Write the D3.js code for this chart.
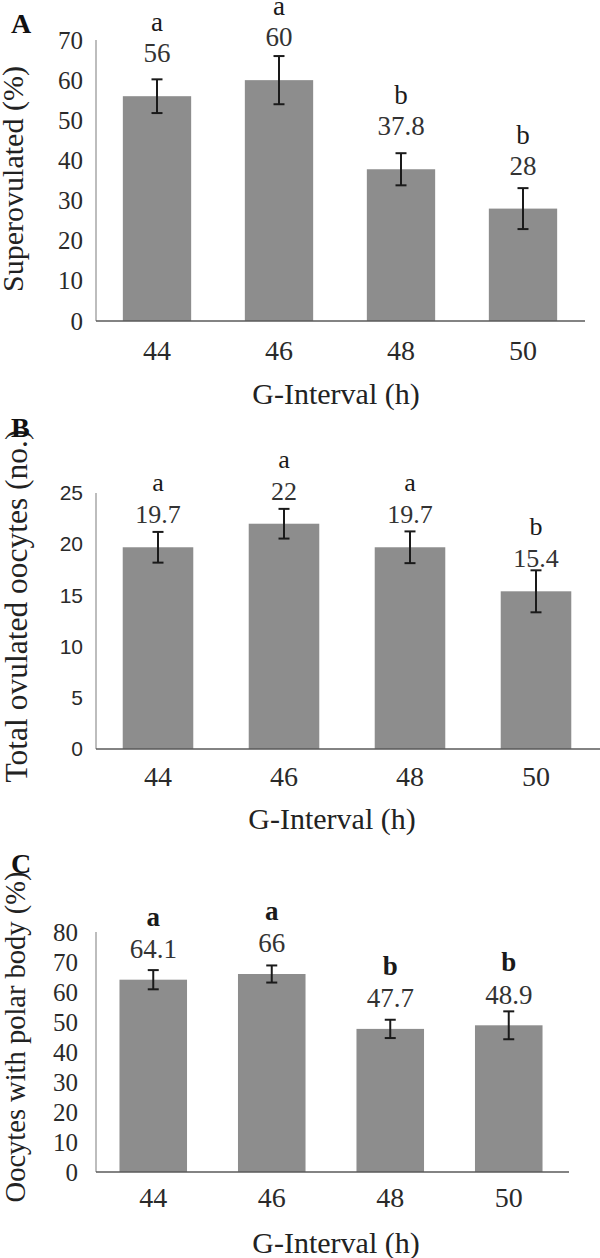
<!DOCTYPE html>
<html>
<head>
<meta charset="utf-8">
<script src="https://cdn.jsdelivr.net/npm/d3@7"></script>
<style>
  html, body { margin: 0; padding: 0; background: #fff; }
  svg { display: block; }
</style>
</head>
<body>
<svg id="chart" width="600" height="1258"></svg>
<script>
// ---------------- DATA ----------------
const categories = ["44", "46", "48", "50"];

const superovulated = [56, 60, 37.8, 28];
const superovulatedErr = [4.2, 6, 4, 5.1];
const superovulatedSig = ["a", "a", "b", "b"];
const superovulatedTicks = [0, 10, 20, 30, 40, 50, 60, 70];

const totalOocytes = [19.7, 22, 19.7, 15.4];
const totalOocytesErr = [1.5, 1.45, 1.55, 2.05];
const totalOocytesSig = ["a", "a", "a", "b"];
const totalOocytesTicks = [0, 5, 10, 15, 20, 25];

const polarBody = [64.1, 66, 47.7, 48.9];
const polarBodyErr = [3.2, 2.85, 3.05, 4.65];
const polarBodySig = ["a", "a", "b", "b"];
const polarBodyTicks = [0, 10, 20, 30, 40, 50, 60, 70, 80];

const xTitle = "G-Interval (h)";

// ---------------- LAYOUT ----------------
const SERIF = '"Liberation Serif"';
const SANS = '"Liberation Sans"';
const BAR = "#8d8d8d";

const panels = [
  {
    letter: "A", letterY: 33,
    values: superovulated, errs: superovulatedErr, sig: superovulatedSig, ticks: superovulatedTicks,
    yTitle: "Superovulated (%)", yTitleX: 23, yTitleSize: 30, yTitleCenter: 179,
    axisX0: 96, axisX1: 585, bandX0: 96, bandX1: 584,
    yTop: 40, yBase: 321, pad: 0.44,
    yTickFont: SERIF, yTickSize: 25, yTickPad: 13,
    xTickSize: 28, xTickCenter: 350, xTitleX: 336, xTitleY: 393,
    numOff: 43.5, sigOff: 73, labelSize: 27, sigBold: false
  },
  {
    letter: "B", letterY: 437,
    values: totalOocytes, errs: totalOocytesErr, sig: totalOocytesSig, ticks: totalOocytesTicks,
    yTitle: "Total ovulated oocytes (no.)", yTitleX: 27, yTitleSize: 31.5, yTitleCenter: 606,
    axisX0: 96, axisX1: 600, bandX0: 95, bandX1: 599,
    yTop: 493, yBase: 749, pad: 0.44,
    yTickFont: SANS, yTickSize: 21, yTickPad: 13,
    xTickSize: 28, xTickCenter: 776, xTitleX: 332, xTitleY: 818,
    numOff: 33, sigOff: 64, labelSize: 26, sigBold: false
  },
  {
    letter: "C", letterY: 873,
    values: polarBody, errs: polarBodyErr, sig: polarBodySig, ticks: polarBodyTicks,
    yTitle: "Oocytes with polar body (%)", yTitleX: 25, yTitleSize: 28.5, yTitleCenter: 1037,
    axisX0: 96, axisX1: 569, bandX0: 94, bandX1: 568,
    yTop: 932, yBase: 1172, pad: 0.43,
    yTickFont: SERIF, yTickSize: 25, yTickPad: 18,
    xTickSize: 28, xTickCenter: 1197, xTitleX: 336, xTitleY: 1242,
    numOff: 31, sigOff: 62, labelSize: 27, sigBold: true
  }
];

const svg = d3.select("#chart");

function drawPanel(p) {
  const g = svg.append("g");
  const max = p.ticks[p.ticks.length - 1];
  const y = d3.scaleLinear().domain([0, max]).range([p.yBase, p.yTop]);
  const x = d3.scaleBand().domain(categories).range([p.bandX0, p.bandX1])
    .paddingInner(p.pad).paddingOuter(p.pad / 2);

  const rows = categories.map((c, i) => ({ c, v: p.values[i], e: p.errs[i], s: p.sig[i] }));

  // bars
  g.selectAll("rect.bar").data(rows).enter().append("rect")
    .attr("class", "bar")
    .attr("x", d => x(d.c))
    .attr("width", x.bandwidth())
    .attr("y", d => y(d.v))
    .attr("height", d => y(0) - y(d.v))
    .attr("fill", BAR);

  // y axis (labels only)
  const ya = g.append("g").attr("transform", `translate(${p.axisX0},0)`)
    .call(d3.axisLeft(y).tickValues(p.ticks).tickSize(0).tickPadding(p.yTickPad).tickFormat(d3.format("d")));
  ya.select(".domain").remove();
  ya.selectAll("text").style("font-family", p.yTickFont).style("font-size", p.yTickSize + "px").attr("fill", "#2a2a2a");

  // x axis (labels only)
  const xa = g.append("g").attr("transform", `translate(0,${p.yBase})`)
    .call(d3.axisBottom(x).tickSize(0).tickPadding(0));
  xa.select(".domain").remove();
  xa.selectAll("text")
    .style("font-family", SERIF).style("font-size", p.xTickSize + "px").attr("fill", "#2a2a2a")
    .attr("y", p.xTickCenter - p.yBase).attr("dy", "0.35em");

  // axis lines
  g.append("line").attr("x1", p.axisX0).attr("x2", p.axisX0).attr("y1", p.yTop).attr("y2", p.yBase)
    .attr("stroke", "#9a9a9a").attr("stroke-width", 1.3);
  g.append("line").attr("x1", p.axisX0).attr("x2", p.axisX1).attr("y1", p.yBase).attr("y2", p.yBase)
    .attr("stroke", "#5a5a5a").attr("stroke-width", 1.5);

  // error bars
  const cx = d => x(d.c) + x.bandwidth() / 2;
  const cap = 5.5;
  const eb = g.selectAll("g.err").data(rows).enter().append("g").attr("class", "err")
    .attr("stroke", "#1a1a1a").attr("stroke-width", 2);
  eb.append("line").attr("x1", cx).attr("x2", cx).attr("y1", d => y(d.v + d.e)).attr("y2", d => y(d.v - d.e));
  eb.append("line").attr("x1", d => cx(d) - cap).attr("x2", d => cx(d) + cap).attr("y1", d => y(d.v + d.e)).attr("y2", d => y(d.v + d.e));
  eb.append("line").attr("x1", d => cx(d) - cap).attr("x2", d => cx(d) + cap).attr("y1", d => y(d.v - d.e)).attr("y2", d => y(d.v - d.e));

  // value labels
  g.selectAll("text.val").data(rows).enter().append("text").attr("class", "val")
    .attr("x", cx).attr("y", d => y(d.v) - p.numOff).attr("dy", "0.35em")
    .attr("text-anchor", "middle")
    .style("font-family", SERIF).style("font-size", p.labelSize + "px")
    .attr("fill", "#333").text(d => String(d.v));
  g.selectAll("text.sig").data(rows).enter().append("text").attr("class", "sig")
    .attr("x", cx).attr("y", d => y(d.v) - p.sigOff).attr("dy", "0.3em")
    .attr("text-anchor", "middle")
    .style("font-family", SERIF).style("font-size", p.labelSize + "px")
    .style("font-weight", p.sigBold ? "bold" : "normal")
    .attr("fill", "#1a1a1a").text(d => d.s);

  // axis titles
  g.append("text").attr("x", p.xTitleX).attr("y", p.xTitleY).attr("dy", "0.35em")
    .attr("text-anchor", "middle")
    .style("font-family", SERIF).style("font-size", "30px")
    .attr("fill", "#222").text(xTitle);
  g.append("text")
    .attr("transform", `translate(${p.yTitleX},${p.yTitleCenter}) rotate(-90)`)
    .attr("text-anchor", "middle")
    .style("font-family", SERIF).style("font-size", p.yTitleSize + "px")
    .attr("fill", "#222").text(p.yTitle);

  // panel letter
  g.append("text").attr("x", 11).attr("y", p.letterY)
    .style("font-family", SERIF).style("font-weight", "bold").style("font-size", "28px")
    .attr("fill", "#111").text(p.letter);
}

panels.forEach(drawPanel);
</script>
</body>
</html>
